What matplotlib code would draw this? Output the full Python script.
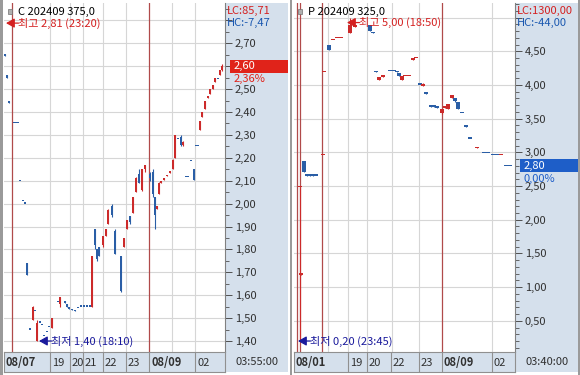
import matplotlib
matplotlib.use("Agg")
import matplotlib.pyplot as plt
import matplotlib.transforms as mtransforms
from matplotlib.patches import Rectangle
from matplotlib.ticker import MultipleLocator, FuncFormatter
import numpy as np

plt.rcParams['font.family'] = ['Noto Sans CJK KR', 'DejaVu Sans']

# ---- left chart: C 202409 375.0 (x = time slot) ----
l_t = [5, 7, 9, 14, 16, 18, 20, 23, 25, 27,
       30, 33, 35, 37, 40, 42, 44, 47, 49, 52,
       58, 60, 65, 67, 69, 72, 75, 78, 81, 84,
       87, 90, 92, 95, 97, 99, 103, 106, 108, 112,
       115, 121, 124, 127, 130, 133, 136, 139, 142, 145,
       150, 153, 155, 157, 159, 161, 164, 167, 170, 173,
       175, 178, 181, 183, 186, 188, 191, 194, 196, 198,
       200, 202, 205, 208, 210, 213, 215, 218, 220, 222]
l_open = [2.655, 2.56, 2.45, 2.35, 2.35, 2.35, 2.10, 2.01, 2.00, 1.74,
          1.45, 1.49, 1.53, 1.40, 1.48, 1.47, 1.42, 1.44, 1.46, 1.455,
          1.57, 1.56, 1.575, 1.56, 1.55, 1.54, 1.535, 1.545, 1.55, 1.55,
          1.55, 1.55, 1.55, 1.89, 1.80, 1.81, 1.82, 1.86, 1.91, 1.99,
          1.88, 1.77, 1.81, 1.89, 1.945, 1.96, 2.05, 2.13, 2.06, 2.15,
          2.13, 2.14, 2.03, 1.975, 2.04, 2.09, 2.105, 2.12, 2.135, 2.15,
          2.20, 2.28, 2.29, 2.255, 2.115, 2.115, 2.185, 2.15, 2.25, 2.25,
          2.32, 2.38, 2.415, 2.46, 2.48, 2.50, 2.53, 2.545, 2.56, 2.585]
l_high = [2.655, 2.56, 2.45, 2.35, 2.35, 2.35, 2.10, 2.01, 2.00, 1.74,
          1.45, 1.555, 1.53, 1.49, 1.48, 1.47, 1.42, 1.44, 1.46, 1.50,
          1.57, 1.59, 1.575, 1.56, 1.55, 1.54, 1.535, 1.545, 1.55, 1.55,
          1.55, 1.55, 1.77, 1.89, 1.80, 1.81, 1.86, 1.89, 1.975, 2.00,
          1.89, 1.77, 1.85, 1.93, 1.945, 2.03, 2.115, 2.15, 2.15, 2.17,
          2.14, 2.15, 2.03, 1.99, 2.095, 2.10, 2.11, 2.125, 2.14, 2.195,
          2.30, 2.28, 2.30, 2.275, 2.115, 2.115, 2.185, 2.15, 2.25, 2.25,
          2.36, 2.40, 2.45, 2.47, 2.50, 2.52, 2.55, 2.545, 2.585, 2.61]
l_low = [2.645, 2.55, 2.44, 2.35, 2.35, 2.35, 2.10, 2.01, 2.00, 1.69,
         1.45, 1.49, 1.53, 1.40, 1.48, 1.47, 1.42, 1.44, 1.46, 1.455,
         1.57, 1.55, 1.565, 1.55, 1.54, 1.535, 1.53, 1.545, 1.55, 1.55,
         1.55, 1.55, 1.55, 1.80, 1.75, 1.77, 1.81, 1.86, 1.91, 1.94,
         1.78, 1.615, 1.81, 1.89, 1.91, 1.96, 2.05, 2.09, 2.055, 2.14,
         2.10, 2.03, 1.89, 1.975, 2.04, 2.09, 2.105, 2.12, 2.135, 2.15,
         2.20, 2.28, 2.25, 2.25, 2.115, 2.115, 2.185, 2.105, 2.25, 2.25,
         2.32, 2.38, 2.415, 2.46, 2.48, 2.50, 2.53, 2.545, 2.56, 2.58]
l_close = [2.645, 2.55, 2.44, 2.35, 2.35, 2.35, 2.10, 2.01, 2.00, 1.69,
           1.45, 1.55, 1.53, 1.48, 1.48, 1.47, 1.42, 1.44, 1.46, 1.50,
           1.57, 1.59, 1.565, 1.55, 1.54, 1.535, 1.53, 1.545, 1.55, 1.55,
           1.55, 1.55, 1.77, 1.82, 1.76, 1.77, 1.86, 1.89, 1.97, 1.95,
           1.78, 1.62, 1.85, 1.93, 1.92, 2.03, 2.11, 2.09, 2.15, 2.17,
           2.11, 2.04, 1.95, 1.99, 2.09, 2.10, 2.11, 2.125, 2.14, 2.19,
           2.30, 2.28, 2.255, 2.27, 2.115, 2.115, 2.185, 2.105, 2.25, 2.25,
           2.36, 2.40, 2.45, 2.47, 2.50, 2.52, 2.55, 2.545, 2.585, 2.60]
l_grid_x = [50, 70, 83, 103, 126, 172, 195]
l_session_x = [12, 149]
l_label_x = [4, 50, 70, 83, 103, 126, 149, 195]
l_labels = ['08/07', '19', '20', '21', '22', '23', '08/09', '02']

# ---- right chart: P 202409 325.0 ----
r_t = [300, 301, 304, 307, 310, 313, 316, 323, 324, 329,
       333, 337, 341, 350, 355, 370, 373, 376, 379, 383,
       390, 394, 397, 399, 402, 405, 409, 413, 416, 420,
       423, 426, 431, 434, 437, 442, 445, 448, 452, 455,
       458, 462, 466, 470, 477, 484, 488, 493, 497, 501,
       506, 510]
r_open = [2.485, 1.185, 2.87, 2.66, 2.66, 2.68, 2.655, 2.955, 4.185, 4.59,
          4.66, 4.69, 4.695, 4.77, 4.86, 4.89, 4.78, 4.20, 4.07, 4.12,
          4.205, 4.205, 4.20, 4.17, 4.07, 4.13, 4.13, 4.37, 4.395, 4.005,
          3.98, 3.875, 3.685, 3.685, 3.68, 3.58, 3.66, 3.65, 3.80, 3.80,
          3.75, 3.585, 3.385, 3.205, 3.06, 2.995, 2.995, 2.965, 2.965, 2.955,
          2.795, 2.795]
r_high = [2.49, 1.19, 2.87, 2.66, 2.66, 2.68, 2.655, 2.96, 4.19, 4.59,
          4.67, 4.70, 4.70, 5.00, 4.87, 4.89, 4.78, 4.20, 4.12, 4.13,
          4.205, 4.205, 4.20, 4.17, 4.14, 4.14, 4.14, 4.40, 4.40, 4.005,
          4.03, 3.875, 3.685, 3.685, 3.68, 3.65, 3.68, 3.72, 3.85, 3.80,
          3.75, 3.585, 3.385, 3.205, 3.08, 2.995, 2.995, 2.965, 2.965, 2.96,
          2.795, 2.795]
r_low = [0.20, 1.185, 2.71, 2.65, 2.65, 2.65, 2.65, 2.955, 4.185, 4.52,
         4.66, 4.69, 4.695, 4.77, 4.86, 4.80, 4.77, 4.19, 4.07, 4.12,
         4.20, 4.20, 4.19, 4.13, 4.07, 4.13, 4.13, 4.37, 4.395, 4.00,
         3.98, 3.87, 3.68, 3.68, 3.66, 3.57, 3.66, 3.65, 3.80, 3.75,
         3.65, 3.58, 3.38, 3.20, 3.06, 2.99, 2.99, 2.96, 2.96, 2.955,
         2.79, 2.79]
r_close = [2.49, 1.19, 2.71, 2.65, 2.65, 2.65, 2.65, 2.96, 4.19, 4.52,
           4.67, 4.70, 4.70, 4.89, 4.87, 4.80, 4.77, 4.19, 4.12, 4.13,
           4.20, 4.20, 4.19, 4.13, 4.14, 4.14, 4.14, 4.40, 4.40, 4.00,
           4.02, 3.87, 3.68, 3.68, 3.66, 3.65, 3.68, 3.72, 3.85, 3.76,
           3.65, 3.58, 3.38, 3.20, 3.08, 2.99, 2.99, 2.96, 2.96, 2.96,
           2.79, 2.79]
r_grid_x = [328, 348, 367, 392, 419, 492]
r_session_x = [297, 300, 322, 442]
r_label_x = [294, 348, 367, 391, 419, 442, 492]
r_labels = ['08/01', '19', '20', '22', '23', '08/09', '02']

RED = '#cc2a2a'
BLUE = '#2a5ea6'
NAVY = '#1a1a9c'
SESS = '#b04a4a'
GRID = '#d6d6d6'
AXBG = '#d5e0ec'
TXT = '#303030'

W, H = 580, 375
fig = plt.figure(figsize=(5.8, 3.75), dpi=100, facecolor='white')


def px_axes(x0, y0, x1, y1):
    return fig.add_axes([x0 / W, 1 - y1 / H, (x1 - x0) / W, (y1 - y0) / H])


def px_rect(x0, y0, x1, y1, color, z=-1):
    fig.patches.append(Rectangle((x0 / W, 1 - y1 / H), (x1 - x0) / W, (y1 - y0) / H,
                                 transform=fig.transFigure, facecolor=color,
                                 edgecolor='none', zorder=z))


def comma(v, pos=None):
    return f"{v:.2f}".replace('.', ',')


def marker(ax, x, y, txt, col):
    # "<-text" arrow pointing at the extreme price
    ax.annotate('', xy=(x, y), xytext=(9, 0), textcoords='offset points',
                arrowprops=dict(arrowstyle='-|>,head_length=0.5,head_width=0.28', color=col,
                                lw=0.9, shrinkA=0, shrinkB=0), annotation_clip=False)
    ax.annotate(txt, xy=(x, y), xytext=(8.5, 0), textcoords='offset points',
                fontsize=8, color=col, va='center', ha='left', annotation_clip=False)


def panel(x0, x1, t, o, h, lo, c, ylim, major, minor, top_hide, body_w, min_px,
          grid_x, sess_x, lab_x, labs, title, lc, hc, last, pct, last_col,
          hi, hi_x, hi_txt, lo_v, lo_x, lo_txt, clock):
    px2d = (ylim[1] - ylim[0]) / 349
    px_rect(x1, 3, x1 + 63, 352, AXBG)
    px_rect(x1, 352, x1 + 63, 372, AXBG)
    ax = px_axes(x0, 3, x1, 352)
    ax.set_xlim(x0, x1)
    ax.set_ylim(*ylim)
    for s in ax.spines.values():
        s.set_visible(False)
    ax.spines['right'].set_visible(True)
    ax.spines['right'].set_color('#808080')
    ax.spines['right'].set_linewidth(0.8)

    ax.yaxis.tick_right()
    ax.yaxis.set_major_locator(MultipleLocator(major))
    ax.yaxis.set_minor_locator(MultipleLocator(minor))
    ax.yaxis.set_major_formatter(FuncFormatter(lambda v, p: '' if v > top_hide else comma(v)))
    ax.tick_params(axis='y', which='major', direction='out', length=5, width=0.7,
                   color='#505050', labelsize=8, labelcolor=TXT, pad=2)
    ax.tick_params(axis='y', which='minor', direction='out', length=3, width=0.6, color='#505050')
    ax.tick_params(axis='x', which='both', bottom=False, labelbottom=False)
    ax.grid(axis='y', which='major', color=GRID, lw=0.8)
    for gx in grid_x:
        ax.axvline(gx, color=GRID, lw=0.8, zorder=1)
    for sx in sess_x:
        ax.axvline(sx, color=SESS, lw=0.9, zorder=2)

    # candles
    t = np.array(t); o = np.array(o); h = np.array(h); lo = np.array(lo); c = np.array(c)
    cols = np.where(c > o, RED, BLUE)
    ax.vlines(t, lo, h, colors=cols, lw=0.8, zorder=3)
    ax.bar(t, np.maximum(np.abs(c - o), px2d * min_px), bottom=np.minimum(o, c), width=body_w,
           color=cols, lw=0, zorder=3)

    # title / LC / HC
    fig.patches.append(Rectangle(((x0 + 4) / W, 1 - 14 / H), 4 / W, 5 / H, transform=fig.transFigure,
                                 facecolor='#b0b0b0', edgecolor='#707070', lw=0.5))
    fig.text((x0 + 14) / W, 1 - 12 / H, title, fontsize=8, color='black', va='center', ha='left')
    fig.text((x1 + 2) / W, 1 - 11 / H, lc, fontsize=8, color='#d42020', va='center', ha='left')
    fig.text((x1 + 2) / W, 1 - 23 / H, hc, fontsize=8, color='#1a58b0', va='center', ha='left')

    # high / low markers (high label sits 5 px under the price)
    marker(ax, hi_x, hi - 5 * px2d, hi_txt, '#d42020')
    marker(ax, lo_x, lo_v, lo_txt, NAVY)

    # last price box + change
    tr = mtransforms.blended_transform_factory(ax.transAxes, ax.transData)
    w = x1 - x0
    bh = 13 * px2d
    ax.add_patch(Rectangle((1 + 5 / w, last - bh / 2), 58 / w, bh, transform=tr,
                           facecolor=last_col, edgecolor='none', clip_on=False, zorder=5))
    ax.text(1 + 9 / w, last, comma(last), transform=tr, fontsize=8, color='white',
            va='center', ha='left', zorder=6, clip_on=False)
    ax.text(1 + 9 / w, last - 13 * px2d, pct, transform=tr, fontsize=8, color=last_col,
            va='center', ha='left', zorder=6, clip_on=False)

    # time label row
    axb = px_axes(x0, 352, x1, 372)
    axb.set_facecolor(AXBG)
    axb.set_xlim(x0, x1)
    axb.set_ylim(0, 1)
    axb.set_xticks([]); axb.set_yticks([])
    for s in axb.spines.values():
        s.set_color('#909090'); s.set_linewidth(0.8)
    for lx, lb in zip(lab_x, labs):
        if lx > x0:
            axb.axvline(lx, color='#909090', lw=0.8)
        bold = '/' in lb
        axb.text(lx + 2, 0.45, lb, fontsize=8, color=TXT, va='center', ha='left',
                 fontweight='bold' if bold else 'normal')
    fig.text((x1 + 32) / W, 1 - 362 / H, clock, fontsize=8, color=TXT, va='center', ha='center')
    return ax


panel(4, 225, l_t, l_open, l_high, l_low, l_close, (1.352, 2.876), 0.1, 0.05, 2.75, 1.5, 1.2,
      l_grid_x, l_session_x, l_label_x, l_labels, 'C 202409 375,0', 'LC:85,71', 'HC:-7,47',
      2.60, '2,36%', '#e0231a', 2.81, 6, '최고 2,81 (23:20)', 1.40, 39, '최저 1,40 (18:10)',
      '03:55:00')
panel(294, 515, r_t, r_open, r_high, r_low, r_close, (0.037, 5.216), 0.5, 0.1, 4.75, 3.5, 1.5,
      r_grid_x, r_session_x, r_label_x, r_labels, 'P 202409 325,0', 'LC:1300,00', 'HC:-44,00',
      2.80, '0,00%', '#1e5ec8', 5.00, 347, '최고 5,00 (18:50)', 0.20, 298, '최저 0,20 (23:45)',
      '03:40:00')

# frame pieces
px_rect(0, 0, 3, 375, '#9a9a9a', z=10)
px_rect(290, 0, 292, 375, '#9a9a9a', z=10)
px_rect(578, 0, 580, 375, '#9a9a9a', z=10)

fig.savefig('out.png', dpi=100, facecolor='white')
